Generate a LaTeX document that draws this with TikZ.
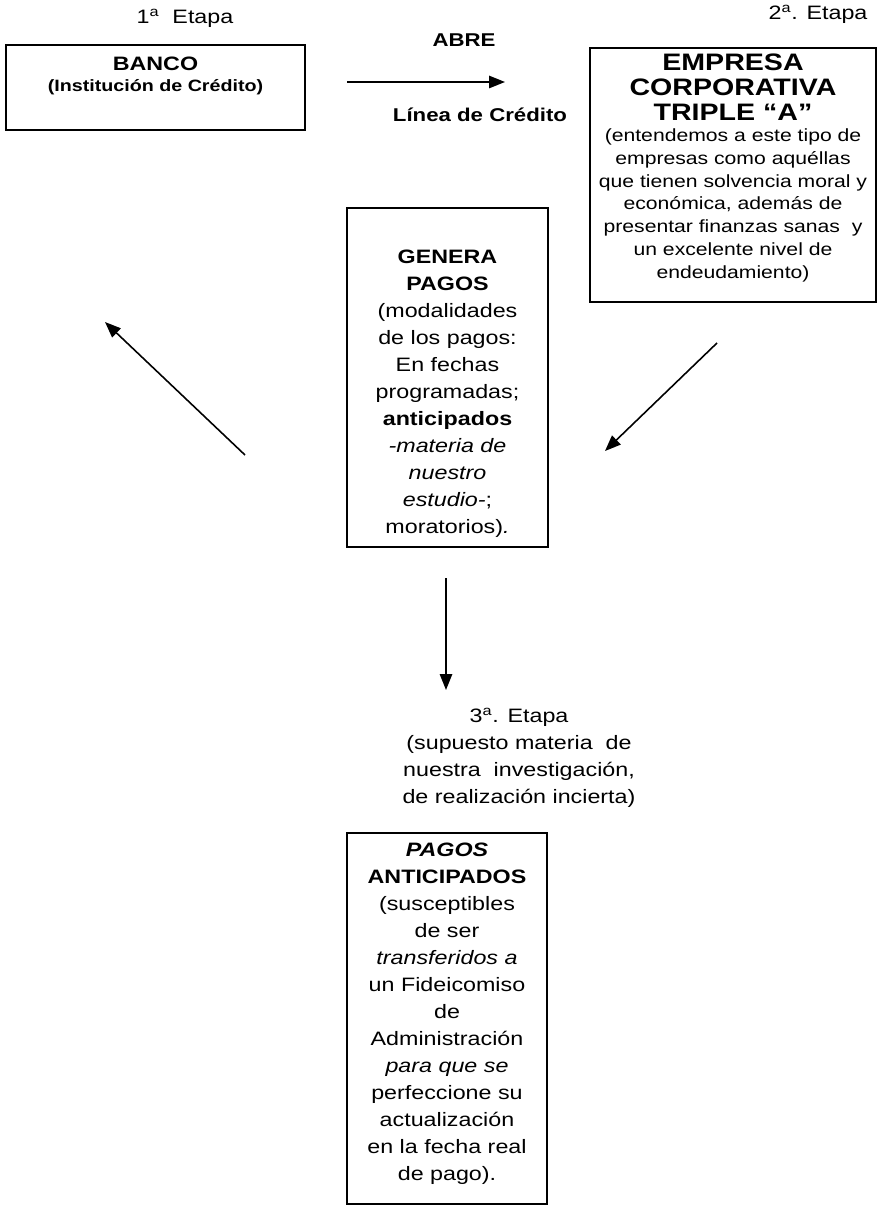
\documentclass[tikz,border=0pt]{standalone}
\usepackage{fontspec}
\setmainfont[FakeStretch=1.2]{Liberation Sans}
\usetikzlibrary{
    arrows.meta,
    positioning,
    calc,
    fit
}
\newcommand{\ord}[1]{#1\textsuperscript{a}}

\begin{document}
\begin{tikzpicture}[
        x=0.567pt, y=-0.567pt,
        box/.style={draw, line width=0.7pt, inner sep=0pt},
        txt/.style={align=center, inner sep=0pt, font=\fontsize{11}{15.3}\selectfont},
        small/.style={align=center, inner sep=0pt, font=\fontsize{10}{13}\selectfont},
        title/.style={align=center, inner sep=0pt, font=\fontsize{13.5}{14.2}\selectfont\bfseries},
        arrow/.style={-{Triangle[length=9pt, width=7pt]}, line width=0.9pt}
    ]
        \useasboundingbox (0,0) rectangle (877,1207);

        % Stage labels
        \node[txt] (etapa1) at (185,18) {\ord{1}\ \ Etapa};
        \node[txt] (etapa2) at (818,14) {\ord{2}. Etapa};

        % Bank
        \node[box, fit={(6,45) (305,130)}] (banco) {};
        \node[align=center, inner sep=0pt, anchor=north] (bancotxt) at ([yshift=-7pt]banco.north) {%
            {\fontsize{11}{11}\selectfont\bfseries BANCO}\\
            {\fontsize{9.3}{10.5}\selectfont\bfseries (Institución de Crédito)}};

        % Credit line
        \node[inner sep=0pt, font=\fontsize{10.5}{12}\selectfont\bfseries] (abre) at (464,40) {ABRE};
        \node[inner sep=0pt, font=\fontsize{10.5}{12}\selectfont\bfseries] (linea) at (480,115) {Línea de Crédito};
        \coordinate (abreA) at (347,82);
        \coordinate (abreB) at (505,82);

        % Company
        \node[box, fit={(590,48) (876,302)}] (empresa) {};
        \node[title, anchor=north] (empresatit) at ([yshift=-3.5pt]empresa.north) {EMPRESA\\CORPORATIVA\\TRIPLE “A”};
        \node[small, anchor=north] (empresadesc) at ([yshift=-4pt]empresatit.south) {%
            (entendemos a este tipo de\\
            empresas como aquéllas\\
            que tienen solvencia moral y\\
            económica, además de\\
            presentar finanzas sanas\ \ y\\
            un excelente nivel de\\
            endeudamiento)};

        % Payments
        \node[box, fit={(347,208) (548,547)}] (genera) {};
        \node[txt, anchor=north] (generatxt) at ([yshift=-24pt]genera.north) {%
            \textbf{GENERA}\\
            \textbf{PAGOS}\\
            (modalidades\\
            de los pagos:\\
            En fechas\\
            programadas;\\
            \textbf{anticipados}\\
            \textit{-materia de}\\
            \textit{nuestro}\\
            \textit{estudio-};\\
            moratorios)\textit{.}};

        \coordinate (nwA) at (245,455);
        \coordinate (nwB) at (105,322);
        \coordinate (swA) at (717,343);
        \coordinate (swB) at (605,451);
        \coordinate (downA) at (446,578);
        \coordinate (downB) at (446,690);

        % Third stage
        \node[txt, anchor=north] (etapa3) at (519,708) {%
            \ord{3}. Etapa\\
            (supuesto materia\ \ de\\
            nuestra\ \ investigación,\\
            de realización incierta)};

        % Early payments
        \node[box, fit={(347,833) (547,1204)}] (anticipados) {};
        \node[txt, anchor=north] (anticipadostxt) at ([yshift=-6pt]anticipados.north) {%
            \textbf{\textit{PAGOS}}\\
            \textbf{ANTICIPADOS}\\
            (susceptibles\\
            de ser\\
            \textit{transferidos a}\\
            un Fideicomiso\\
            de\\
            Administración\\
            \textit{para que se}\\
            perfeccione su\\
            actualización\\
            en la fecha real\\
            de pago).};

        % Arrows
        \draw[arrow] (abreA) -- (abreB);
        \draw[arrow] (nwA) -- (nwB);
        \draw[arrow] (swA) -- (swB);
        \draw[arrow] (downA) -- (downB);
    \end{tikzpicture}
\end{document}
